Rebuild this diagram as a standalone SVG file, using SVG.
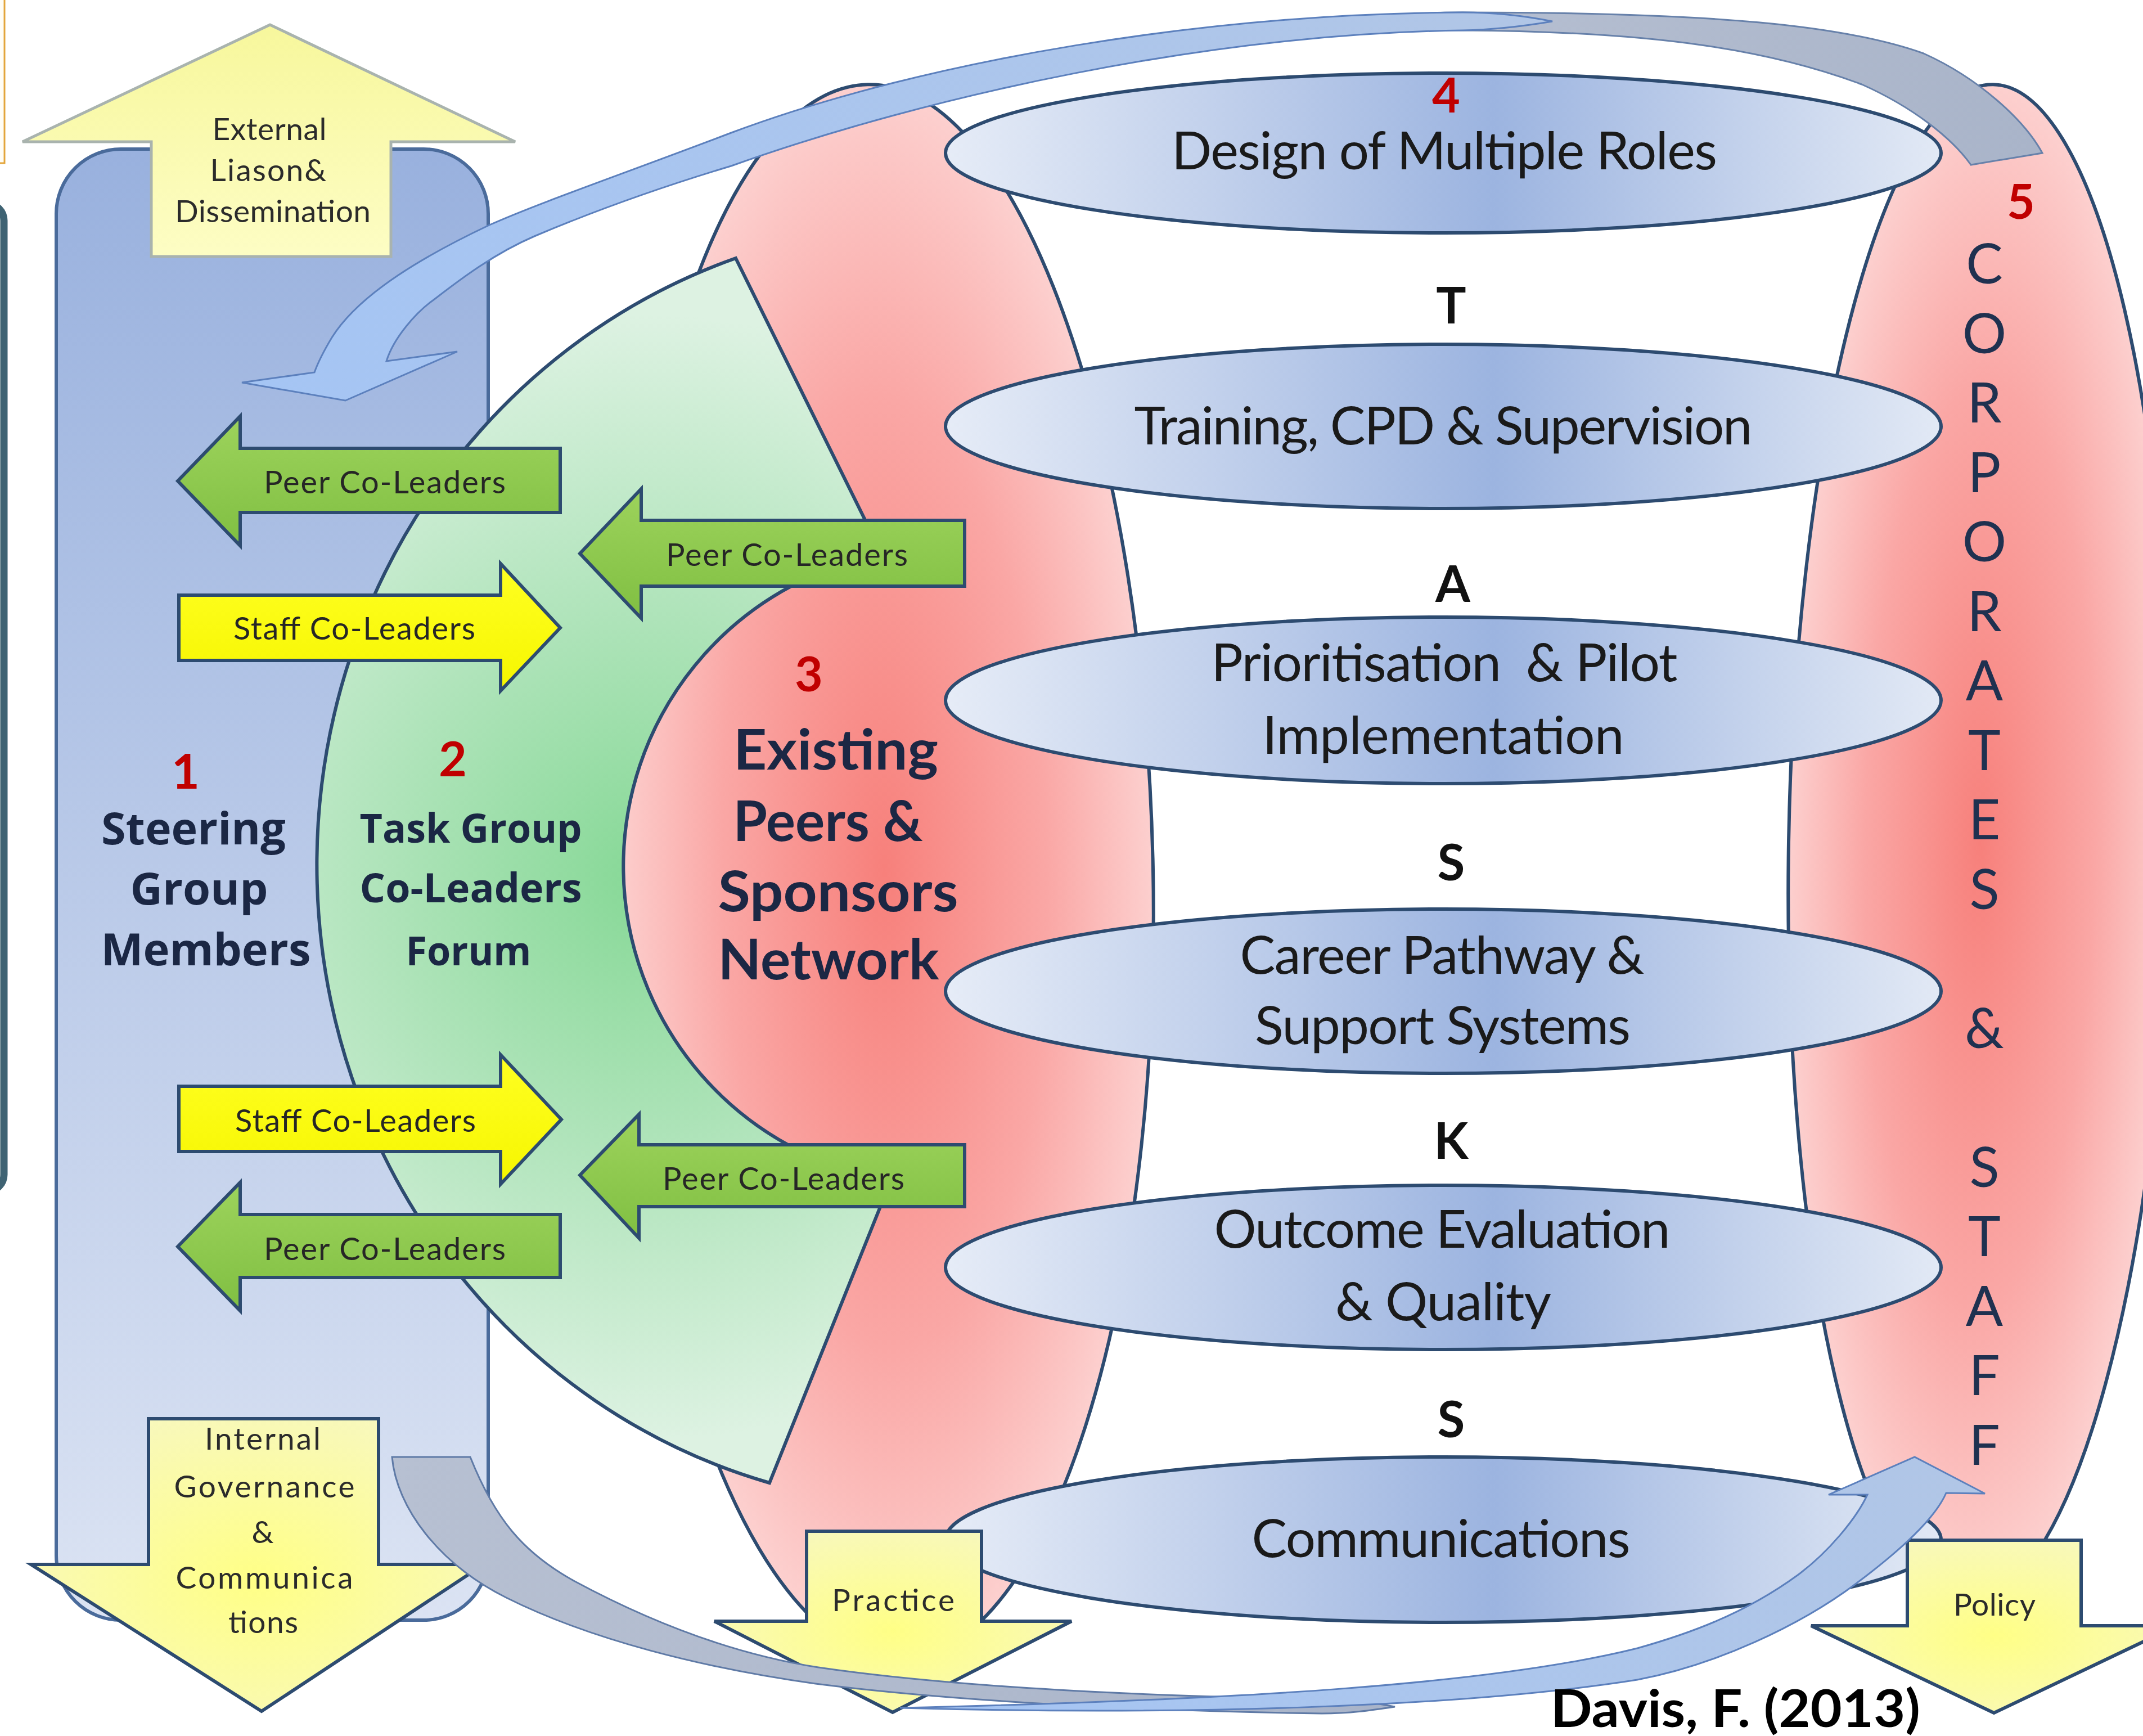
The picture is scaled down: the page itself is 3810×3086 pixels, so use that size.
<svg xmlns="http://www.w3.org/2000/svg" width="3810" height="3086" viewBox="0 0 3810 3086">
  <defs>
    <style>
      .ln { stroke: #2d4b70; stroke-width: 6; stroke-linejoin: miter; }
      .sans { font-family: Lato, "Liberation Sans", sans-serif; }
      .wide { font-family: "Open Sans", "DejaVu Sans", sans-serif; font-weight: 700; }
      .arrowtxt { font-size: 56px; fill: #262626; text-anchor: middle; }
      .boxtxt { font-size: 55px; fill: #2b2b2b; text-anchor: middle; }
      .ovtxt { font-size: 94px; fill: #1a1a1a; text-anchor: middle; }
      .task { font-size: 89px; font-weight: 700; fill: #111111; text-anchor: middle; }
      .num { font-size: 86px; font-weight: 700; fill: #c00000; text-anchor: middle; }
      .head { fill: #1b2744; text-anchor: middle; }
      .vert { font-size: 98px; fill: #1f3150; text-anchor: middle; }
    </style>
    <linearGradient id="gSteer" x1="0" y1="265" x2="0" y2="2880" gradientUnits="userSpaceOnUse">
      <stop offset="0" stop-color="#99b1de"/>
      <stop offset="1" stop-color="#dbe3f3"/>
    </linearGradient>
    <radialGradient id="gRed" cx="0.5" cy="0.5" r="0.55">
      <stop offset="0" stop-color="#f7807b"/>
      <stop offset="0.55" stop-color="#faa7a5"/>
      <stop offset="1" stop-color="#fddad9"/>
    </radialGradient>
    <radialGradient id="gGreen" cx="1150" cy="1560" r="1000" gradientUnits="userSpaceOnUse">
      <stop offset="0" stop-color="#86d896"/>
      <stop offset="0.45" stop-color="#ade3b8"/>
      <stop offset="1" stop-color="#ddf2e2"/>
    </radialGradient>
    <linearGradient id="gOval" x1="0" y1="0" x2="1" y2="0">
      <stop offset="0" stop-color="#e6ecf7"/>
      <stop offset="0.55" stop-color="#9cb4e0"/>
      <stop offset="1" stop-color="#e2e9f5"/>
    </linearGradient>
    <linearGradient id="gLime" x1="0" y1="0" x2="0" y2="1">
      <stop offset="0" stop-color="#9dd35c"/>
      <stop offset="1" stop-color="#80bf42"/>
    </linearGradient>
    <linearGradient id="gYel" x1="0" y1="0" x2="0" y2="1">
      <stop offset="0" stop-color="#ffff22"/>
      <stop offset="1" stop-color="#f6f600"/>
    </linearGradient>
    <radialGradient id="gPale" cx="0.5" cy="0.55" r="0.6">
      <stop offset="0" stop-color="#ffff86"/>
      <stop offset="1" stop-color="#f8f8bc"/>
    </radialGradient>
    <linearGradient id="gPaleUp" x1="0" y1="0" x2="0" y2="1">
      <stop offset="0" stop-color="#f7f79c"/>
      <stop offset="1" stop-color="#fdfdc4"/>
    </linearGradient>
    <linearGradient id="gRibGray" x1="0" y1="0" x2="1" y2="0">
      <stop offset="0" stop-color="#b7c0d2"/>
      <stop offset="1" stop-color="#a9b4c9"/>
    </linearGradient>
    <linearGradient id="gRibBlue" x1="0" y1="0" x2="1" y2="0">
      <stop offset="0" stop-color="#a5c5f4"/>
      <stop offset="1" stop-color="#b1c6e6"/>
    </linearGradient>
  </defs>

  <rect width="3810" height="3086" fill="#ffffff"/>

  <!-- partial frames at the left edge -->
  <g id="edge-frames">
    <rect x="-20" y="-20" width="28" height="310" fill="#fffdf5" stroke="#e3a53b" stroke-width="3"/>
    <rect x="-60" y="362" width="67" height="1756" rx="30" fill="#fafaf5" stroke="#3f6373" stroke-width="13"/>
  </g>

  <!-- 1: steering group column -->
  <g id="steering-group">
    <rect x="100" y="265" width="768" height="2615" rx="115" fill="url(#gSteer)" stroke="#4a6b9b" stroke-width="6"/>
  </g>

  <!-- 3: existing peers & sponsors network -->
  <g id="peers-network">
    <ellipse cx="1572" cy="1550" rx="478" ry="1400" transform="rotate(-1.2 1572 1550)" fill="url(#gRed)" class="ln" stroke-width="5"/>
  </g>

  <!-- 2: task group block arc -->
  <g id="task-group">
    <path d="M1308,459 L1568,985 A565,565 0 0 0 1584,2098 L1368,2636 A1100,1140 0 0 1 1308,459 Z" fill="url(#gGreen)" class="ln" stroke-width="5"/>
  </g>

  <!-- 5: corporates & staff -->
  <g id="corporates-staff">
    <ellipse cx="3520" cy="1500" rx="340" ry="1350" transform="rotate(1 3520 1500)" fill="url(#gRed)" class="ln" stroke-width="5"/>
  </g>

  <!-- 4: task ovals -->
  <g id="task-ovals">
    <ellipse id="oval-design" cx="2566" cy="272" rx="885" ry="142" fill="url(#gOval)" class="ln" stroke-width="7"/>
    <ellipse id="oval-training" cx="2566" cy="758" rx="885" ry="146" fill="url(#gOval)" class="ln" stroke-width="7"/>
    <ellipse id="oval-prioritisation" cx="2566" cy="1245" rx="885" ry="148" fill="url(#gOval)" class="ln" stroke-width="7"/>
    <ellipse id="oval-career" cx="2566" cy="1762" rx="885" ry="146" fill="url(#gOval)" class="ln" stroke-width="7"/>
    <ellipse id="oval-outcome" cx="2566" cy="2253" rx="885" ry="146" fill="url(#gOval)" class="ln" stroke-width="7"/>
    <ellipse id="oval-communications" cx="2566" cy="2737" rx="885" ry="147" fill="url(#gOval)" class="ln" stroke-width="7"/>
  </g>

  <!-- co-leader block arrows -->
  <g id="peer-left-top">
    <path d="M316,855 L427,740 L427,797 L996,797 L996,911 L427,911 L427,970 Z" fill="url(#gLime)" class="ln"/>
  </g>
  <g id="staff-top">
    <path d="M318,1058 L890,1058 L890,1002 L996,1116 L890,1228 L890,1174 L318,1174 Z" fill="url(#gYel)" class="ln"/>
  </g>
  <g id="peer-right-top">
    <path d="M1031,984 L1140,869 L1140,925 L1715,925 L1715,1042 L1140,1042 L1140,1099 Z" fill="url(#gLime)" class="ln"/>
  </g>
  <g id="staff-bottom">
    <path d="M318,1931 L890,1931 L890,1875 L998,1990 L890,2105 L890,2047 L318,2047 Z" fill="url(#gYel)" class="ln"/>
  </g>
  <g id="peer-right-bottom">
    <path d="M1031,2089 L1136,1981 L1136,2035 L1715,2035 L1715,2145 L1136,2145 L1136,2201 Z" fill="url(#gLime)" class="ln"/>
  </g>
  <g id="peer-left-bottom">
    <path d="M316,2216 L427,2102 L427,2159 L996,2159 L996,2271 L427,2271 L427,2330 Z" fill="url(#gLime)" class="ln"/>
  </g>

  <!-- up / down block arrows -->
  <g id="external-liaison">
    <path d="M480,44 L916,252 L695,252 L695,456 L269,456 L269,252 L40,252 Z" fill="url(#gPaleUp)" stroke="#a9b3ae" stroke-width="5"/>
  </g>
  <g id="internal-governance">
    <path d="M264,2522 L673,2522 L673,2781 L860,2781 L465,3042 L55,2781 L264,2781 Z" fill="url(#gPale)" class="ln"/>
  </g>
  <g id="practice">
    <path d="M1434,2722 L1745,2722 L1745,2882 L1905,2882 L1587,3044 L1270,2882 L1434,2882 Z" fill="url(#gPale)" class="ln"/>
  </g>
  <g id="policy">
    <path d="M3391,2738 L3700,2738 L3700,2890 L3870,2890 L3545,3045 L3220,2890 L3391,2890 Z" fill="url(#gPale)" class="ln"/>
  </g>

  <!-- curved ribbon connectors -->
  <g id="connectors">
    <!-- top ribbon: back face, tapering into the twist -->
    <path d="M3631,272 C3600,215 3520,140 3420,95 C3280,45 3050,22 2600,22 C2520,22 2480,28 2440,38 C2480,48 2520,54 2600,54 C2950,56 3150,90 3310,150 C3400,190 3470,245 3504,293 Z" fill="url(#gRibGray)" stroke="#6781aa" stroke-width="3"/>
    <!-- top ribbon: front face with head -->
    <path d="M2760,38 C2700,26 2650,22 2600,22 C2150,24 1650,105 1300,236 C1100,312 960,360 870,400 C760,452 640,520 590,600 C575,625 565,645 559,662 L430,680 L614,712 L813,625 L687,642 C700,600 740,555 771,533 C820,495 880,450 950,420 C1080,365 1200,325 1300,295 C1650,170 2150,60 2600,54 C2650,53 2700,48 2760,38 Z" fill="url(#gRibBlue)" stroke="#5c80bd" stroke-width="3"/>
    <!-- bottom ribbon: back face, tapering into the twist -->
    <path d="M697,2590 C705,2680 780,2780 900,2840 C1050,2915 1250,2965 1450,2993 C1700,3025 2050,3042 2350,3046 C2400,3046 2440,3040 2480,3034 C2440,3026 2400,3021 2350,3020 C2050,3016 1700,3000 1455,2964 C1300,2940 1150,2880 1020,2810 C930,2760 880,2700 836,2590 Z" fill="url(#gRibGray)" stroke="#5f7aa6" stroke-width="3"/>
    <!-- bottom ribbon: front face with head -->
    <path d="M1600,3036 C2100,3050 2600,3035 2911,2986 C3050,2960 3200,2890 3300,2815 C3380,2755 3440,2700 3460,2654 L3529,2655 L3404,2590 L3251,2657 L3320,2657 C3300,2700 3250,2760 3196,2800 C3100,2870 3000,2905 2911,2930 C2650,2995 2200,3022 1600,3036 Z" fill="url(#gRibBlue)" stroke="#5c80bd" stroke-width="3"/>
  </g>

  <!-- labels -->
  <g id="labels-arrows" class="sans">
    <text class="arrowtxt" x="684" y="877" textLength="430" lengthAdjust="spacing">Peer Co-Leaders</text>
    <text class="arrowtxt" x="630" y="1137" textLength="430" lengthAdjust="spacing">Staff Co-Leaders</text>
    <text class="arrowtxt" x="1399" y="1006" textLength="430" lengthAdjust="spacing">Peer Co-Leaders</text>
    <text class="arrowtxt" x="632" y="2012" textLength="428" lengthAdjust="spacing">Staff Co-Leaders</text>
    <text class="arrowtxt" x="1393" y="2115" textLength="430" lengthAdjust="spacing">Peer Co-Leaders</text>
    <text class="arrowtxt" x="684" y="2240" textLength="430" lengthAdjust="spacing">Peer Co-Leaders</text>
  </g>

  <g id="labels-boxes" class="sans">
    <text class="boxtxt" x="479" y="249" textLength="203" lengthAdjust="spacing">External</text>
    <text class="boxtxt" x="477" y="322" textLength="207" lengthAdjust="spacing">Liason&amp;</text>
    <text class="boxtxt" x="485" y="395" textLength="348" lengthAdjust="spacing">Dissemination</text>
    <text class="boxtxt" x="467" y="2577" textLength="206" lengthAdjust="spacing">Internal</text>
    <text class="boxtxt" x="470" y="2662" textLength="321" lengthAdjust="spacing">Governance</text>
    <text class="boxtxt" x="467" y="2743">&amp;</text>
    <text class="boxtxt" x="470" y="2824" textLength="315" lengthAdjust="spacing">Communica</text>
    <text class="boxtxt" x="468" y="2903" textLength="124" lengthAdjust="spacing">tions</text>
    <text class="boxtxt" x="1588" y="2864" textLength="218" lengthAdjust="spacing">Practice</text>
    <text class="boxtxt" x="3546" y="2872" textLength="146" lengthAdjust="spacing">Policy</text>
  </g>

  <g id="labels-groups">
    <text class="head wide" font-size="78" x="344" y="1501" textLength="328" lengthAdjust="spacingAndGlyphs">Steering</text>
    <text class="head wide" font-size="78" x="354" y="1608" textLength="245" lengthAdjust="spacingAndGlyphs">Group</text>
    <text class="head wide" font-size="78" x="366" y="1716" textLength="373" lengthAdjust="spacingAndGlyphs">Members</text>
    <text class="head wide" font-size="72" x="837" y="1498" textLength="395" lengthAdjust="spacingAndGlyphs">Task Group</text>
    <text class="head wide" font-size="72" x="837" y="1604" textLength="395" lengthAdjust="spacingAndGlyphs">Co-Leaders</text>
    <text class="head wide" font-size="72" x="833" y="1716" textLength="223" lengthAdjust="spacingAndGlyphs">Forum</text>
    <g class="sans" font-weight="700" font-size="100">
      <text class="head" x="1486" y="1368" textLength="364" lengthAdjust="spacingAndGlyphs">Existing</text>
      <text class="head" x="1472" y="1495" textLength="337" lengthAdjust="spacingAndGlyphs">Peers &amp;</text>
      <text class="head" x="1490" y="1620" textLength="427" lengthAdjust="spacingAndGlyphs">Sponsors</text>
      <text class="head" x="1473" y="1741" textLength="393" lengthAdjust="spacingAndGlyphs">Network</text>
    </g>
  </g>

  <g id="labels-numbers" class="sans">
    <text class="num" x="330" y="1402">1</text>
    <text class="num" x="805" y="1380">2</text>
    <text class="num" x="1438" y="1229">3</text>
    <text class="num" x="2571" y="200">4</text>
    <text class="num" x="3593" y="389">5</text>
  </g>

  <g id="labels-ovals" class="sans">
    <text class="ovtxt" x="2568" y="301" textLength="970" lengthAdjust="spacing">Design of Multiple Roles</text>
    <text class="ovtxt" x="2566" y="790" textLength="1099" lengthAdjust="spacing">Training, CPD &amp; Supervision</text>
    <text class="ovtxt" x="2568" y="1211" textLength="829" lengthAdjust="spacing" xml:space="preserve">Prioritisation  &amp; Pilot</text>
    <text class="ovtxt" x="2566" y="1340" textLength="643" lengthAdjust="spacing">Implementation</text>
    <text class="ovtxt" x="2564" y="1731" textLength="719" lengthAdjust="spacing">Career Pathway &amp;</text>
    <text class="ovtxt" x="2565" y="1856" textLength="668" lengthAdjust="spacing">Support Systems</text>
    <text class="ovtxt" x="2564" y="2218" textLength="811" lengthAdjust="spacing">Outcome Evaluation</text>
    <text class="ovtxt" x="2566" y="2347" textLength="384" lengthAdjust="spacing">&amp; Quality</text>
    <text class="ovtxt" x="2562" y="2768" textLength="673" lengthAdjust="spacing">Communications</text>
  </g>

  <g id="labels-tasks" class="sans">
    <text class="task" x="2580" y="575">T</text>
    <text class="task" x="2583" y="1070">A</text>
    <text class="task" x="2580" y="1565">S</text>
    <text class="task" x="2580" y="2060">K</text>
    <text class="task" x="2580" y="2555">S</text>
  </g>

  <g id="labels-corporates" class="sans">
    <text class="vert" x="3528" y="504">C</text>
    <text class="vert" x="3528" y="628">O</text>
    <text class="vert" x="3528" y="751">R</text>
    <text class="vert" x="3528" y="875">P</text>
    <text class="vert" x="3528" y="998">O</text>
    <text class="vert" x="3528" y="1122">R</text>
    <text class="vert" x="3528" y="1245">A</text>
    <text class="vert" x="3528" y="1369">T</text>
    <text class="vert" x="3528" y="1492">E</text>
    <text class="vert" x="3528" y="1616">S</text>
    <text class="vert" x="3528" y="1863">&amp;</text>
    <text class="vert" x="3528" y="2110">S</text>
    <text class="vert" x="3528" y="2233">T</text>
    <text class="vert" x="3528" y="2357">A</text>
    <text class="vert" x="3528" y="2480">F</text>
    <text class="vert" x="3528" y="2604">F</text>
  </g>

  <g id="credit" class="sans">
    <text x="2757" y="3070" font-size="92" font-weight="700" fill="#000000" textLength="657" lengthAdjust="spacingAndGlyphs">Davis, F. (2013)</text>
  </g>
</svg>
